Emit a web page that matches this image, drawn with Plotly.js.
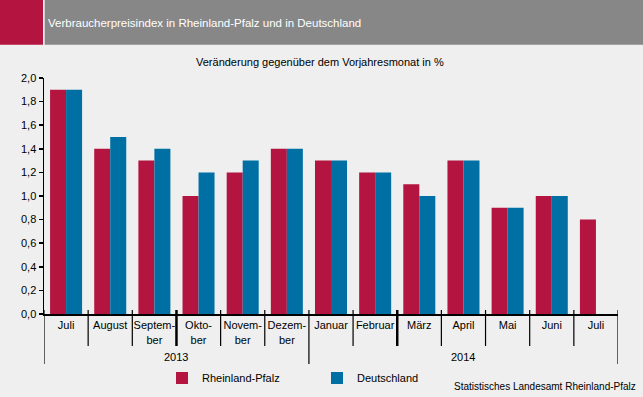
<!DOCTYPE html>
<html>
<head>
<meta charset="utf-8">
<script src="https://cdn.plot.ly/plotly-3.0.1.min.js"></script>
<style>html,body{margin:0;padding:0;background:#EEEFEE;}#chart{width:643px;height:397px;}</style>
</head>
<body>
<div id="chart"></div>
<script>
// ---- data ----
const monthLabels = ["Juli","August","Septem-<br>ber","Okto-<br>ber","Novem-<br>ber","Dezem-<br>ber","Januar","Februar","März","April","Mai","Juni","Juli"];
const years = ["2013","2014"];
const yearSpans = [[0,5],[6,12]];
const rlp = [1.9,1.4,1.3,1.0,1.2,1.4,1.3,1.2,1.1,1.3,0.9,1.0,0.8];
const de  = [1.9,1.5,1.4,1.2,1.3,1.4,1.3,1.2,1.0,1.3,0.9,1.0,null];
const seriesNames = ["Rheinland-Pfalz","Deutschland"];
const yTicks = [0,0.2,0.4,0.6,0.8,1.0,1.2,1.4,1.6,1.8,2.0];

// ---- layout helpers ----
const W=643,H=397,ML=44,MR=25,MT=78,MB=83;
const PW=W-ML-MR, PH=H-MT-MB;
const px=v=>(v-ML)/PW, py=v=>(H-MB-v)/PH;
const idx = monthLabels.map((_,i)=>i);
const font="Arial, 'Liberation Sans', sans-serif";

const traces=[
 {type:'bar',name:seriesNames[0],x:idx,y:rlp,marker:{color:'#B31440'}},
 {type:'bar',name:seriesNames[1],x:idx,y:de,marker:{color:'#0070A4'}}
];

const shapes=[
 {type:'rect',xref:'paper',yref:'paper',x0:px(0),x1:px(43),y0:py(0),y1:py(44.7),fillcolor:'#B31440',line:{width:0},layer:'below'},
 {type:'rect',xref:'paper',yref:'paper',x0:px(44.7),x1:px(643),y0:py(0),y1:py(44.7),fillcolor:'#878787',line:{width:0},layer:'below'}
];
const yearBounds=[0,6,13];
const thick=[3,8];
for(let b=0;b<=monthLabels.length;b++){
  const isYear=yearBounds.includes(b);
  shapes.push({type:'line',xref:'x',yref:'paper',x0:b-0.5,x1:b-0.5,y0:py(310),y1:py(isYear?364:346),
    line:{color:'#000',width:thick.includes(b)?2.5:1.2}});
}

const annotations=[
 {text:'Verbraucherpreisindex in Rheinland-Pfalz und in Deutschland',xref:'paper',yref:'paper',x:px(46),y:py(23),xanchor:'left',yanchor:'middle',showarrow:false,font:{family:font,size:11.5,color:'#fff'}},
 {text:'Veränderung gegenüber dem Vorjahresmonat in %',xref:'paper',yref:'paper',x:px(320),y:py(62),xanchor:'center',yanchor:'middle',showarrow:false,font:{family:font,size:11,color:'#000'}},
 {text:'Statistisches Landesamt Rheinland-Pfalz',xref:'paper',yref:'paper',x:px(638),y:py(386),xanchor:'right',yanchor:'middle',showarrow:false,font:{family:font,size:10,color:'#000'}}
];
years.forEach((yr,k)=>{
  annotations.push({text:yr,xref:'x',yref:'paper',x:(yearSpans[k][0]+yearSpans[k][1])/2,y:py(357),xanchor:'center',yanchor:'middle',showarrow:false,font:{family:font,size:11,color:'#000'}});
});

const layout={
 width:W,height:H,
 paper_bgcolor:'#EEEFEE',plot_bgcolor:'#EEEFEE',
 margin:{l:ML,r:MR,t:MT,b:MB,pad:0},
 barmode:'group',bargap:0.275,bargroupgap:0,
 xaxis:{range:[-0.5,monthLabels.length-0.5],tickvals:idx,ticktext:monthLabels,ticks:'',showgrid:false,zeroline:false,
   showline:true,linecolor:'#000',linewidth:2,tickfont:{family:font,size:11,color:'#000'},fixedrange:true},
 yaxis:{range:[0,2.0],tickvals:yTicks,tickformat:'.1f',ticks:'outside',ticklen:4,tickcolor:'#000',tickwidth:1.5,
   showgrid:false,zeroline:false,showline:true,linecolor:'#000',linewidth:1.5,tickfont:{family:font,size:11,color:'#000'},fixedrange:true},
 separators:',.',
 showlegend:true,
 legend:{orientation:'h',xref:'container',x:162/W,xanchor:'left',yref:'container',y:1-378/H,yanchor:'middle',font:{family:font,size:11,color:'#000'},
   bgcolor:'rgba(0,0,0,0)',entrywidth:110,itemwidth:30,traceorder:'normal'},
 shapes:shapes,annotations:annotations
};
Plotly.newPlot('chart',traces,layout,{displayModeBar:false,staticPlot:true});
</script>
</body>
</html>
